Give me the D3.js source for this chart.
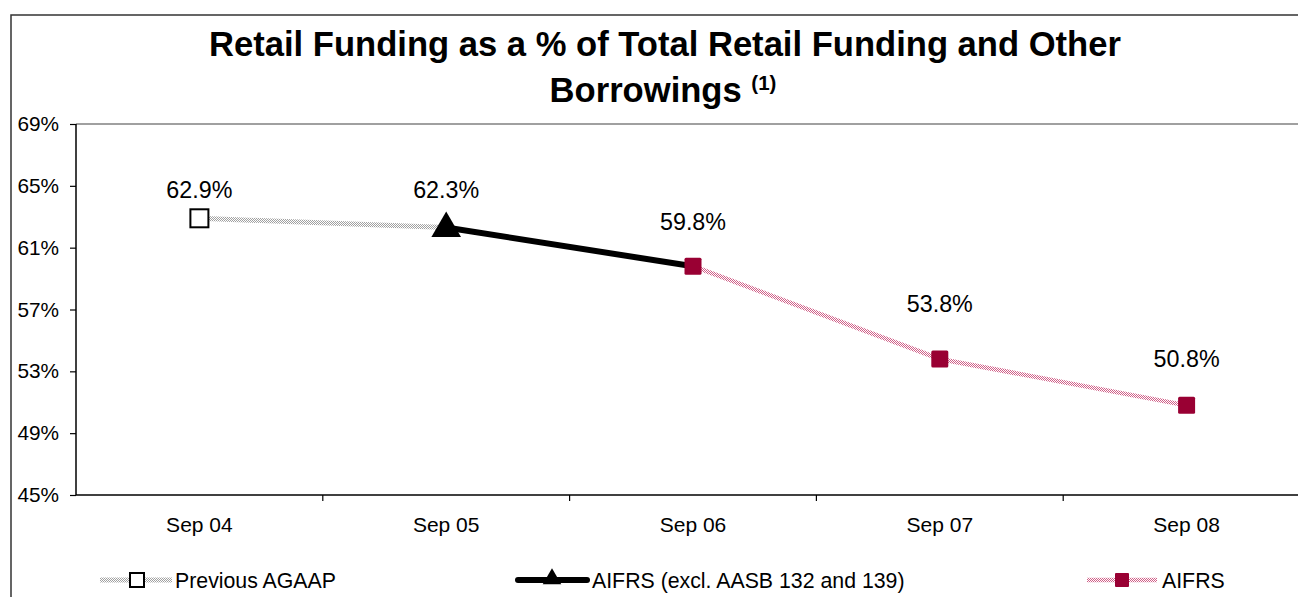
<!DOCTYPE html>
<html>
<head>
<meta charset="utf-8">
<script src="https://cdn.jsdelivr.net/npm/d3@7"></script>
<style>
  html, body { margin: 0; padding: 0; background: #fff; }
  svg { display: block; font-family: Arial, "Liberation Sans", sans-serif; }
</style>
</head>
<body>
<svg id="chart" width="1298" height="597"></svg>
<script>
// Reporting periods along the x axis
const categories = ["Sep 04", "Sep 05", "Sep 06", "Sep 07", "Sep 08"];

// Each basis of preparation covers its own run of periods (values in %)
const agaapValues  = [62.9, 62.3, null, null, null];
const aifrsExValues = [null, 62.3, 59.8, null, null];
const aifrsValues  = [null, null, 59.8, 53.8, 50.8];

// Figures printed above the points
const labelValues = [62.9, 62.3, 59.8, 53.8, 50.8];
// How far each printed figure sits above its point (px)
const labelLift = [20, 30, 36, 47, 38];

const yTicks = [45, 49, 53, 57, 61, 65, 69];

const svg = d3.select("#chart");
const W = 1298, H = 597;
const plot = { left: 76, top: 124, right: 1310, bottom: 495 };

// Halftone patterns used for the dotted series lines
const defs = svg.append("defs");
function checker(id, ink) {
  const p = defs.append("pattern").attr("id", id)
    .attr("patternUnits", "userSpaceOnUse").attr("width", 2).attr("height", 2);
  p.append("rect").attr("width", 2).attr("height", 2).attr("fill", "#fff");
  p.append("rect").attr("width", 1).attr("height", 1).attr("fill", ink);
  p.append("rect").attr("x", 1).attr("y", 1).attr("width", 1).attr("height", 1).attr("fill", ink);
}
checker("dotGrey", "#a0a0a0");
checker("dotRed", "#d06088");

// Outer chart frame
svg.append("rect").attr("x", 11).attr("y", 15).attr("width", W).attr("height", H)
  .attr("fill", "none").attr("stroke", "#333").attr("stroke-width", 1.5);

// Title
const title = svg.append("g").attr("font-weight", "bold").attr("fill", "#000").attr("text-anchor", "middle");
title.append("text").attr("x", 665).attr("y", 56).attr("font-size", 34.6)
  .text("Retail Funding as a % of Total Retail Funding and Other");
const t2 = title.append("text").attr("x", 663).attr("y", 102).attr("font-size", 34.6);
t2.append("tspan").text("Borrowings ");
t2.append("tspan").attr("font-size", 20.5).attr("dy", -12).text("(1)");

const x = d3.scaleBand().domain(categories).range([plot.left, plot.right]);
const cx = d => x(d) + x.bandwidth() / 2;
const y = d3.scaleLinear().domain([45, 69]).range([plot.bottom, plot.top]);

// Plot area top edge
svg.append("line").attr("x1", plot.left).attr("x2", W).attr("y1", y(69)).attr("y2", y(69))
  .attr("stroke", "#808080").attr("stroke-width", 1.5);

// Y axis
const yAxis = svg.append("g").attr("transform", `translate(${plot.left},0)`)
  .call(d3.axisLeft(y).tickValues(yTicks).tickFormat(d => d + "%").tickSize(6).tickPadding(11));
yAxis.select(".domain").attr("stroke", "#000").attr("stroke-width", 1.5).attr("d", `M0,${plot.top}V${plot.bottom}`);
yAxis.selectAll(".tick line").attr("stroke", "#000").attr("stroke-width", 1.2);
yAxis.selectAll(".tick text").attr("font-size", 20.8).attr("fill", "#000")
  .attr("font-family", "Arial, 'Liberation Sans', sans-serif");

// X axis with ticks between categories
const xAxis = svg.append("g").attr("transform", `translate(0,${plot.bottom})`)
  .call(d3.axisBottom(x).tickSize(0).tickPadding(22));
xAxis.select(".domain").attr("stroke", "#000").attr("stroke-width", 1.5)
  .attr("d", `M${plot.left},0H${W}`);
xAxis.selectAll(".tick text").attr("font-size", 21).attr("fill", "#000")
  .attr("font-family", "Arial, 'Liberation Sans', sans-serif");
xAxis.selectAll(".sep").data(categories.slice(1)).enter().append("line")
  .attr("x1", d => x(d)).attr("x2", d => x(d)).attr("y1", 0).attr("y2", 6)
  .attr("stroke", "#000").attr("stroke-width", 1.2);

function series(vals) {
  return categories.map((c, i) => ({ c, v: vals[i] })).filter(d => d.v != null);
}
const line = d3.line().x(d => cx(d.c)).y(d => y(d.v));

// Series lines
svg.append("path").attr("d", line(series(agaapValues)))
  .attr("fill", "none").attr("stroke", "url(#dotGrey)").attr("stroke-width", 5);
svg.append("path").attr("d", line(series(aifrsValues)))
  .attr("fill", "none").attr("stroke", "url(#dotRed)").attr("stroke-width", 4.5);
svg.append("path").attr("d", line(series(aifrsExValues)))
  .attr("fill", "none").attr("stroke", "#000").attr("stroke-width", 6);

// Markers
const sq = series(agaapValues).slice(0, 1);
svg.selectAll(".m1").data(sq).enter().append("rect")
  .attr("x", d => cx(d.c) - 9).attr("y", d => y(d.v) - 9).attr("width", 18).attr("height", 18)
  .attr("fill", "#fff").attr("stroke", "#000").attr("stroke-width", 2);

svg.selectAll(".m3").data(series(aifrsValues)).enter().append("rect")
  .attr("x", d => cx(d.c) - 8.5).attr("y", d => y(d.v) - 8.5).attr("width", 17).attr("height", 17)
  .attr("rx", 1.5).attr("fill", "#990033");

const tri = d3.symbol().type(d3.symbolTriangle).size(380);
svg.selectAll(".m2").data(series(aifrsExValues).slice(0, 1)).enter().append("path")
  .attr("d", tri).attr("transform", d => `translate(${cx(d.c)},${y(d.v) + 1})`).attr("fill", "#000");

// Data labels
svg.selectAll(".lbl").data(labelValues).enter().append("text")
  .attr("x", (d, i) => cx(categories[i]))
  .attr("y", (d, i) => y(d) - labelLift[i])
  .attr("text-anchor", "middle").attr("font-size", 23.3).attr("fill", "#000")
  .text(d => d.toFixed(1) + "%");

// Legend
const leg = svg.append("g").attr("font-size", 21.3).attr("fill", "#000");
const ly = 580;
// Previous AGAAP
leg.append("line").attr("x1", 100).attr("x2", 172).attr("y1", ly).attr("y2", ly)
  .attr("stroke", "url(#dotGrey)").attr("stroke-width", 5);
leg.append("rect").attr("x", 130).attr("y", ly - 7).attr("width", 14).attr("height", 14)
  .attr("fill", "#fff").attr("stroke", "#000").attr("stroke-width", 2);
leg.append("text").attr("x", 175).attr("y", ly + 7.5).text("Previous AGAAP");
// AIFRS excl.
leg.append("line").attr("x1", 518).attr("x2", 587).attr("y1", ly).attr("y2", ly)
  .attr("stroke", "#000").attr("stroke-width", 6).attr("stroke-linecap", "round");
leg.append("path").attr("d", d3.symbol().type(d3.symbolTriangle).size(150))
  .attr("transform", `translate(552,${ly - 1})`).attr("fill", "#000");
leg.append("text").attr("x", 592).attr("y", ly + 7.5).text("AIFRS (excl. AASB 132 and 139)");
// AIFRS
leg.append("line").attr("x1", 1087).attr("x2", 1157).attr("y1", ly).attr("y2", ly)
  .attr("stroke", "url(#dotRed)").attr("stroke-width", 4.5);
leg.append("rect").attr("x", 1115).attr("y", ly - 7).attr("width", 14).attr("height", 14)
  .attr("rx", 1).attr("fill", "#990033");
leg.append("text").attr("x", 1162).attr("y", ly + 7.5).text("AIFRS");
</script>
</body>
</html>
